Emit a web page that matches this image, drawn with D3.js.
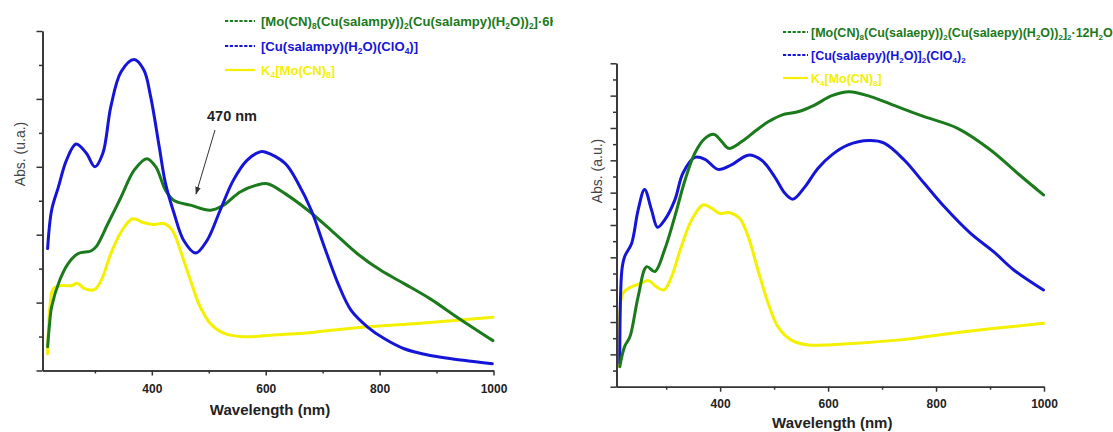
<!DOCTYPE html>
<html><head><meta charset="utf-8">
<script src="https://cdn.jsdelivr.net/npm/d3@7/dist/d3.min.js"></script>
<style>
html,body{margin:0;padding:0;background:#fff;}
svg{display:block;font-family:"Liberation Sans",Arial,sans-serif;}
</style></head>
<body>
<svg id="c" width="1113" height="432"></svg>
<script>
// ---------- data (wavelength nm, absorbance a.u.) ----------
const xMajorTicks = [400, 600, 800, 1000];
const xMinorTicks = [300, 500, 700, 900];
const xTickLabels = ["400", "600", "800", "1000"];
const leftYMajor = [0, 0.2, 0.4, 0.6, 0.8, 1.0];
const leftYMinor = [0.1, 0.3, 0.5, 0.7, 0.9];
const rightYMajor = [0, 0.1, 0.2, 0.3, 0.4, 0.5, 0.6, 0.7, 0.8, 0.9, 1.0];
const rightYMinor = [0.05, 0.15, 0.25, 0.35, 0.45, 0.55, 0.65, 0.75, 0.85, 0.95];

// Left panel
const leftBlue = [[217,0.359],[224,0.472],[236,0.541],[250,0.619],[267,0.667],[285,0.64],[300,0.60],[314,0.64],[328,0.777],[346,0.88],[369,0.916],[386,0.885],[398,0.806],[413,0.659],[424,0.551],[439,0.463],[456,0.383],[477,0.346],[497,0.383],[520,0.472],[543,0.56],[567,0.619],[590,0.644],[600,0.643],[634,0.61],[657,0.551],[680,0.472],[703,0.364],[727,0.256],[750,0.177],[779,0.128],[808,0.094],[843,0.064],[889,0.044],[947,0.030],[998,0.020]];
const leftGreen = [[217,0.07],[220,0.13],[224,0.187],[238,0.265],[253,0.315],[270,0.344],[293,0.352],[302,0.364],[323,0.433],[346,0.511],[369,0.59],[391,0.624],[407,0.60],[424,0.531],[439,0.501],[468,0.487],[503,0.472],[526,0.487],[555,0.526],[584,0.546],[603,0.550],[634,0.521],[674,0.472],[715,0.413],[761,0.344],[802,0.295],[843,0.256],[889,0.211],[936,0.157],[999,0.088]];
const leftYellow = [[217,0.049],[221,0.187],[227,0.241],[241,0.25],[259,0.25],[269,0.257],[282,0.241],[299,0.238],[311,0.265],[328,0.344],[346,0.408],[366,0.447],[386,0.435],[404,0.43],[421,0.433],[436,0.413],[450,0.354],[468,0.265],[485,0.187],[503,0.138],[526,0.11],[555,0.10],[584,0.10],[600,0.103],[686,0.113],[773,0.128],[860,0.138],[999,0.157]];

// Right panel
const rightBlue = [[214,0.072],[218,0.361],[223,0.402],[236,0.443],[248,0.546],[260,0.61],[273,0.546],[284,0.493],[297,0.515],[316,0.577],[331,0.66],[353,0.709],[372,0.703],[396,0.672],[421,0.686],[452,0.716],[477,0.70],[501,0.649],[520,0.598],[535,0.58],[557,0.618],[581,0.675],[607,0.717],[636,0.747],[676,0.761],[704,0.753],[741,0.701],[778,0.629],[815,0.557],[864,0.474],[907,0.417],[944,0.361],[999,0.299]];
const rightGreen = [[214,0.062],[223,0.124],[233,0.155],[248,0.278],[264,0.371],[279,0.356],[297,0.423],[316,0.526],[335,0.639],[353,0.722],[372,0.768],[389,0.78],[403,0.758],[416,0.737],[440,0.758],[464,0.789],[489,0.819],[514,0.84],[544,0.85],[575,0.871],[607,0.90],[639,0.912],[679,0.897],[728,0.866],[778,0.835],[840,0.799],[901,0.732],[951,0.66],[999,0.593]];
const rightYellow = [[214,0.062],[220,0.289],[236,0.309],[254,0.32],[267,0.328],[282,0.309],[296,0.299],[310,0.34],[328,0.433],[347,0.515],[368,0.562],[384,0.552],[399,0.536],[418,0.538],[436,0.521],[452,0.464],[470,0.361],[489,0.258],[507,0.186],[532,0.144],[563,0.129],[607,0.130],[728,0.144],[852,0.170],[999,0.196]];

const colBlue = "#1515d8", colGreen = "#1b7a1b", colYellow = "#f4f000";

// legend label pieces: [text, isSubscript]
const leftLegend = [
  {color: colGreen, dash: true, parts: [["[Mo(CN)",0],["8",1],["(Cu(salampy))",0],["2",1],["(Cu(salampy)(H",0],["2",1],["O))",0],["2",1],["]·6H",0],["2",1],["O",0]]},
  {color: colBlue, dash: true, parts: [["[Cu(salampy)(H",0],["2",1],["O)(ClO",0],["4",1],[")]",0]]},
  {color: colYellow, dash: false, parts: [["K",0],["4",1],["[Mo(CN)",0],["8",1],["]",0]]}
];
const rightLegend = [
  {color: colGreen, dash: true, parts: [["[Mo(CN)",0],["8",1],["(Cu(salaepy))",0],["2",1],["(Cu(salaepy)(H",0],["2",1],["O))",0],["2",1],["]",0],["2",1],["·12H",0],["2",1],["O",0]]},
  {color: colBlue, dash: true, parts: [["[Cu(salaepy)(H",0],["2",1],["O)]",0],["2",1],["(ClO",0],["4",1],[")",0],["2",1]]},
  {color: colYellow, dash: false, parts: [["K",0],["4",1],["[Mo(CN)",0],["8",1],["]",0]]}
];

const svg = d3.select("#c");
const defs = svg.append("defs");
defs.append("clipPath").attr("id","lclip").append("rect").attr("x",0).attr("y",0).attr("width",553).attr("height",432);
const mk = defs.append("marker").attr("id","arr").attr("viewBox","0 0 10 10").attr("refX",9).attr("refY",5)
  .attr("markerWidth",8).attr("markerHeight",8).attr("orient","auto-start-reverse").attr("markerUnits","userSpaceOnUse");
mk.append("path").attr("d","M0,1.5 L10,5 L0,8.5 Z").attr("fill","#333");

function panel(cfg) {
  const g = svg.append("g");
  const x = d3.scaleLinear().domain([208, 1000]).range(cfg.xr);
  const y = d3.scaleLinear().domain([0, 1]).range(cfg.yr);
  const line = d3.line().x(d => x(d[0])).y(d => y(d[1])).curve(d3.curveCatmullRom.alpha(0.5));
  cfg.series.forEach(s => {
    g.append("path").datum(s.data).attr("d", line).attr("fill","none")
      .attr("stroke", s.color).attr("stroke-width", 3).attr("stroke-linejoin","round").attr("stroke-linecap","round");
  });
  const axCol = "#333";
  const xb = g.append("g").attr("transform",`translate(0,${cfg.yr[0]})`);
  xb.call(d3.axisBottom(x).tickValues(xMajorTicks).tickSize(5).tickSizeOuter(0)
      .tickFormat((d,i) => xTickLabels[i]));
  xb.append("g").call(d3.axisBottom(x).tickValues(xMinorTicks).tickSize(3).tickSizeOuter(0).tickFormat(""));
  const yb = g.append("g").attr("transform",`translate(${cfg.xr[0]},0)`);
  yb.call(d3.axisLeft(y).tickValues(cfg.yMajor).tickSize(6).tickSizeOuter(0).tickFormat(""));
  yb.append("g").call(d3.axisLeft(y).tickValues(cfg.yMinor).tickSize(3.5).tickSizeOuter(0).tickFormat(""));
  g.selectAll(".domain").attr("stroke", axCol).attr("stroke-width", 1.6);
  g.selectAll(".tick line").attr("stroke", axCol).attr("stroke-width", 1.5);
  xb.selectAll(".tick text").attr("font-family","Liberation Sans, Arial, sans-serif")
    .attr("font-size", 12).attr("font-weight","bold").attr("fill","#222").attr("y", cfg.tickLabY).attr("dy", 0);
  g.append("text").attr("x", (cfg.xr[0]+cfg.xr[1])/2 + 2).attr("y", cfg.titleY).attr("text-anchor","middle")
    .attr("font-size", 15).attr("font-weight","bold").attr("fill","#222").text("Wavelength (nm)");
  g.append("text").attr("transform",`translate(${cfg.ylabX},${cfg.ylabY}) rotate(-90)`).attr("text-anchor","middle")
    .attr("font-size", 14).attr("fill","#444").text(cfg.ylab);
  // legend
  const lg = g.append("g");
  if (cfg.clip) lg.attr("clip-path","url(#lclip)");
  cfg.legend.forEach((it, i) => {
    const yy = cfg.legY[i];
    lg.append("line").attr("x1", cfg.legX[0]).attr("x2", cfg.legX[1]).attr("y1", yy).attr("y2", yy)
      .attr("stroke", it.color).attr("stroke-width", 2.2).attr("stroke-dasharray", it.dash ? "3.2,1.6" : null);
    const t = lg.append("text").attr("x", cfg.legX[2]).attr("y", yy + 4.5).attr("font-size", cfg.legFont)
      .attr("font-weight","bold").attr("fill", it.color);
    let shifted = false;
    it.parts.forEach(p => {
      const ts = t.append("tspan").text(p[0]);
      if (p[1]) { ts.attr("font-size", cfg.legFont * 0.64).attr("dy", shifted ? 0 : 3); shifted = true; }
      else { ts.attr("dy", shifted ? -3 : 0); shifted = false; }
    });
  });
  return {g, x, y};
}

const L = panel({
  xr: [42.5, 493.5], yr: [370.5, 31], yMajor: leftYMajor, yMinor: leftYMinor,
  series: [{data: leftYellow, color: colYellow},{data: leftGreen, color: colGreen},{data: leftBlue, color: colBlue}],
  tickLabY: 22, titleY: 415, ylab: "Abs. (u.a.)", ylabX: 25, ylabY: 154,
  legend: leftLegend, legX: [225, 255, 261], legY: [21, 46, 70], clip: true, legFont: 13.1
});
const R = panel({
  xr: [616.5, 1044], yr: [386.7, 63.3], yMajor: rightYMajor, yMinor: rightYMinor,
  series: [{data: rightYellow, color: colYellow},{data: rightBlue, color: colBlue},{data: rightGreen, color: colGreen}],
  tickLabY: 21, titleY: 428, ylab: "Abs. (a.u.)", ylabX: 602, ylabY: 171,
  legend: rightLegend, legX: [783, 808, 811], legY: [32, 55, 78], clip: false, legFont: 12.5
});

// annotation
const annWl = 470;
L.g.append("text").attr("x", 232).attr("y", 121).attr("text-anchor","middle").attr("font-size", 14.5)
  .attr("font-weight","bold").attr("fill","#222").text(annWl + " nm");
L.g.append("line").attr("x1", 215).attr("y1", 130).attr("x2", 196).attr("y2", 194)
  .attr("stroke","#333").attr("stroke-width", 1).attr("marker-end","url(#arr)");
</script>
</body></html>
